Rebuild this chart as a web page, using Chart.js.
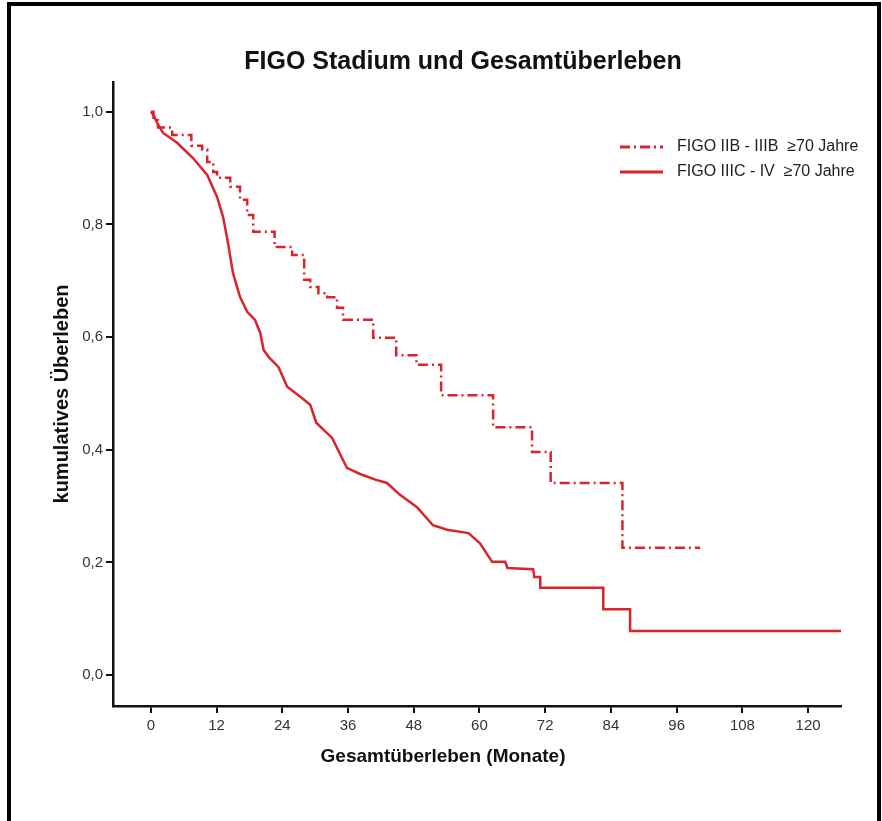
<!DOCTYPE html>
<html>
<head>
<meta charset="utf-8">
<script src="https://cdn.jsdelivr.net/npm/chart.js@4.4.0/dist/chart.umd.min.js"></script>
<style>
  html, body { margin: 0; padding: 0; background: #fff; }
  #wrap { position: relative; width: 882px; height: 821px; overflow: hidden; }
  #wrap canvas { position: absolute; left: 0; top: 0; }
  #frame { position: absolute; left: 7px; top: 2px; width: 866px; height: 840px;
           border: 4px solid #000; border-bottom: none; pointer-events: none; }
</style>
</head>
<body>
<div id="wrap">
  <canvas id="km" width="882" height="821"></canvas>
  <div id="frame"></div>
</div>
<script>
// Kaplan-Meier Werte
const monthsIIB = [0, 0.5, 1.3, 3.9, 7.4, 9.4, 10.3, 11.4, 12.1, 14.5, 16.3, 17.6, 18.7, 22.6, 25.8,
  28.0, 29.1, 30.6, 32.2, 34.0, 35.1, 40.6, 44.8, 48.5, 53.0, 62.5, 69.6, 73.0, 86.1, 100.3];
const survIIB = [1.0, 0.985, 0.972, 0.959, 0.940, 0.933, 0.911, 0.893, 0.883, 0.867, 0.844, 0.817, 0.787, 0.760, 0.746,
  0.702, 0.689, 0.678, 0.671, 0.652, 0.631, 0.599, 0.568, 0.551, 0.497, 0.440, 0.396, 0.341, 0.226, 0.226];

const monthsIIIC = [0, 0.4, 1.2, 2.2, 4.8, 7.7, 10.3, 12.1, 13.2, 14.1, 15.0, 16.3, 17.6, 19.0, 20.0, 20.6,
  21.5, 23.3, 24.9, 27.3, 29.1, 30.2, 33.1, 35.8, 38.2, 41.0, 43.1, 45.5, 48.6, 51.5, 54.1, 58.0, 60.1,
  62.3, 64.7, 65.1, 69.8, 70.0, 71.1, 71.1, 82.6, 82.6, 87.5, 87.5, 126];
const survIIIC = [1.0, 0.996, 0.98, 0.963, 0.945, 0.918, 0.888, 0.849, 0.813, 0.767, 0.714, 0.671, 0.645, 0.631, 0.607, 0.577,
  0.565, 0.547, 0.512, 0.494, 0.480, 0.448, 0.421, 0.368, 0.357, 0.347, 0.341, 0.320, 0.298, 0.266, 0.258, 0.252, 0.234,
  0.201, 0.201, 0.190, 0.188, 0.174, 0.174, 0.155, 0.155, 0.117, 0.117, 0.078, 0.078];

const xTicks = [0, 12, 24, 36, 48, 60, 72, 84, 96, 108, 120];
const yTicks = [0, 0.2, 0.4, 0.6, 0.8, 1.0];
const seriesLabels = ['FIGO IIB - IIIB  \u226570 Jahre', 'FIGO IIIC - IV  \u226570 Jahre'];
const chartTitle = 'FIGO Stadium und Gesamtüberleben';
const xTitle = 'Gesamtüberleben (Monate)';
const yTitle = 'kumulatives Überleben';

const red = '#d9232d';
const fontFam = '"Liberation Sans", Arial, sans-serif';

const toPoints = (xs, ys) => xs.map((x, i) => ({ x: x, y: ys[i] }));

// Titel, x-Achsentitel und Legende
const textPlugin = {
  id: 'texts',
  afterDraw(chart) {
    const ctx = chart.ctx;
    ctx.save();
    ctx.fillStyle = '#111';
    ctx.textAlign = 'center';
    ctx.textBaseline = 'middle';
    ctx.font = 'bold 25px ' + fontFam;
    ctx.fillText(chartTitle, 463, 62);
    ctx.font = 'bold 19px ' + fontFam;
    ctx.fillText(xTitle, 443, 757);

    // Legende
    ctx.textAlign = 'left';
    ctx.font = '16px ' + fontFam;
    chart.data.datasets.forEach((ds, i) => {
      const y = 147 + i * 25;
      ctx.strokeStyle = ds.borderColor;
      ctx.lineWidth = 3;
      ctx.setLineDash(ds.borderDash || []);
      ctx.beginPath();
      ctx.moveTo(620, y);
      ctx.lineTo(663, y);
      ctx.stroke();
      ctx.setLineDash([]);
      ctx.fillStyle = '#222';
      ctx.fillText(ds.label, 677, y);
    });
    ctx.restore();
  }
};

new Chart(document.getElementById('km'), {
  type: 'line',
  data: {
    datasets: [{
      label: seriesLabels[0],
      data: toPoints(monthsIIB, survIIB),
      borderColor: red,
      borderWidth: 2.5,
      borderDash: [10, 4, 2, 4],
      stepped: true,
      pointRadius: 0,
      fill: false
    }, {
      label: seriesLabels[1],
      data: toPoints(monthsIIIC, survIIIC),
      borderColor: red,
      borderWidth: 2.5,
      tension: 0,
      pointRadius: 0,
      fill: false
    }]
  },
  options: {
    responsive: false,
    animation: false,
    layout: { padding: { top: 82, right: 41, left: 0, bottom: 0 } },
    plugins: {
      legend: { display: false },
      tooltip: { enabled: false }
    },
    scales: {
      x: {
        type: 'linear',
        min: -6.9,
        max: 126,
        afterBuildTicks: s => { s.ticks = xTicks.map(v => ({ value: v })); },
        afterFit: s => { s.height = 115; },
        border: { color: '#111', width: 2.5 },
        grid: { drawOnChartArea: false, color: '#111', lineWidth: 2, tickLength: 7 },
        ticks: { color: '#333', font: { family: fontFam, size: 15 }, padding: 4, maxRotation: 0 }
      },
      y: {
        min: -0.055,
        max: 1.053,
        afterBuildTicks: s => { s.ticks = yTicks.map(v => ({ value: v })); },
        afterFit: s => { s.width = 113; },
        border: { color: '#111', width: 2.5 },
        grid: { drawOnChartArea: false, color: '#111', lineWidth: 2, tickLength: 7 },
        ticks: {
          color: '#333', font: { family: fontFam, size: 15 }, padding: 3,
          callback: v => v.toFixed(1).replace('.', ',')
        },
        title: {
          display: true, text: yTitle, color: '#111',
          font: { family: fontFam, size: 20, weight: 'bold' },
          padding: { top: 50, bottom: 0 }
        }
      }
    }
  },
  plugins: [textPlugin]
});
</script>
</body>
</html>
